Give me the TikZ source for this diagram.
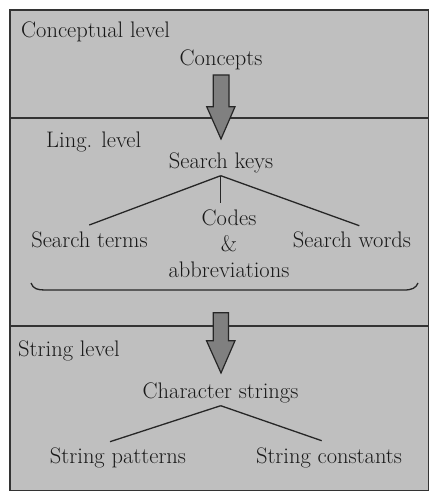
\documentclass[tikz,border=0pt]{standalone}
\usepackage{fontspec}
\setmainfont{Latin Modern Roman}
\begin{document}
\begin{tikzpicture}[x=1pt,y=-1pt,
  txt/.style={inner sep=0pt,font=\fontsize{22.5}{26}\selectfont,text=black!90},
  frame/.style={draw=black!80,line width=1.6pt},
  tree/.style={draw=black!85,line width=1.3pt},
  fatarrow/.style={draw=black!85,line width=1.2pt,fill=black!50,line join=miter}]
\useasboundingbox (0,0) rectangle (430,492);
\fill[black!25] (10,10) rectangle (429,491);
\draw[frame] (10,10) rectangle (428.5,490.5);
\draw[frame] (10,118) -- (428.5,118);
\draw[frame] (10,326) -- (428.5,326);
% texts
\node[txt,anchor=base west] (conclevel) at (21,38) {Conceptual level};
\node[txt,anchor=base] (concepts) at (221,66) {Concepts};
\node[txt,anchor=base west] (linglevel) at (46,147) {Ling. level};
\node[txt,anchor=base] (keys) at (221,168) {Search keys};
\node[txt,anchor=base] (terms) at (89.5,247) {Search terms};
\node[txt,anchor=base,align=center] (codes) at (229,277.3) {Codes\\\&\\abbreviations};
\node[txt,anchor=base] (words) at (352,247) {Search words};
\node[txt,anchor=base west] (strlevel) at (18,356) {String level};
\node[txt,anchor=base] (chars) at (220.5,398) {Character strings};
\node[txt,anchor=base] (patterns) at (118,463) {String patterns};
\node[txt,anchor=base] (constants) at (329,463) {String constants};
% fat arrows
\draw[fatarrow] (213.3,75) -- (229,75) -- (229,106.7) -- (235,106.7) -- (221,139)
  -- (206.7,106.7) -- (213.3,106.7) -- cycle;
\draw[fatarrow] (213.3,312.7) -- (228.5,312.7) -- (228.5,340.7) -- (235,340.7) -- (221,373)
  -- (206.5,340.7) -- (213.3,340.7) -- cycle;
% tree 1
\coordinate (apexA) at (220.7,175.7);
\draw[tree] (apexA) -- (89.3,225);
\draw[tree] (apexA) -- (220.7,203.3);
\draw[tree] (apexA) -- (359.3,225.7);
% brace
\draw[tree] (31,283) .. controls (33,289) and (38,290) .. (45,290) -- (404,290)
  .. controls (412,290) and (416,288) .. (418,283);
% tree 2
\coordinate (apexB) at (220.7,405.7);
\draw[tree] (apexB) -- (110,441.7);
\draw[tree] (apexB) -- (321.7,440.7);
\end{tikzpicture}
\end{document}
